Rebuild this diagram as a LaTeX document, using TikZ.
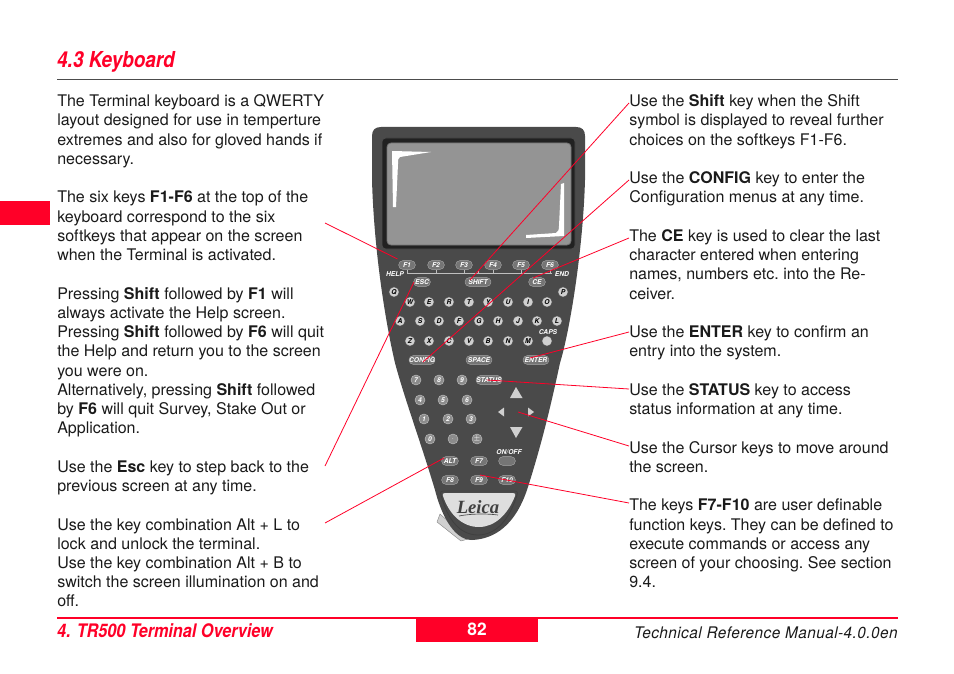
\documentclass[tikz,border=0pt]{standalone}
\usepackage{fontspec}
\setmainfont{TeX Gyre Heros}
\newfontfamily\logofont{Liberation Serif}
\newfontfamily\manualfont[LetterSpace=3]{TeX Gyre Heros}
\usetikzlibrary{calc}
\definecolor{leicared}{HTML}{FF0028}
\definecolor{body}{HTML}{4A4A4A}
\definecolor{screen}{HTML}{949494}
\definecolor{keyg}{HTML}{757575}
\definecolor{keyn}{HTML}{8C8C8C}
\definecolor{keyl}{HTML}{D0D0D0}
\definecolor{txt}{HTML}{1A1A1A}
\tikzset{
  x=0.75pt,y=-0.75pt,
  column/.style={anchor=north west,inner sep=0pt,align=left,text=txt,font=\frenchspacing\fontsize{12.02pt}{14.43pt}\selectfont},
  conn/.style={draw=leicared,line width=0.6pt},
  pill/.style={shape=rectangle,rounded corners=3.2pt,fill=keyg,draw=keyl!70!body,line width=0.3pt,minimum width=12.5pt,minimum height=6.6pt,inner sep=0pt,text=white,font=\fontsize{5pt}{5pt}\selectfont\bfseries\itshape},
  widepill/.style={pill,minimum width=19.5pt},
  rkey/.style={circle,fill=keyl,draw=black!70,line width=0.25pt,minimum size=7.6pt,inner sep=0pt,text=black,font=\fontsize{5pt}{5pt}\selectfont\bfseries\itshape},
  nkey/.style={rkey,fill=keyn,draw=keyl,text=white},
  klabel/.style={inner sep=0pt,text=white,font=\fontsize{5pt}{5pt}\selectfont\bfseries\itshape},
  tri/.style={fill=keyl,draw=none},
}
\begin{document}
\begin{tikzpicture}
\useasboundingbox (0,0) rectangle (954,674);
% page furniture
\fill[leicared] (0,201) rectangle (50,225);
\node[anchor=base west,inner sep=0pt,xscale=0.86,text=leicared,font=\fontsize{16.5pt}{18pt}\selectfont\bfseries\itshape] (title) at (57,68) {4.3 Keyboard};
\draw[black!70,line width=0.5pt] (57,79.5) -- (898,79.5);
\draw[leicared,line width=1pt] (57,618) -- (898,618);
\fill[leicared] (416,618) rectangle (538,642);
\node[inner sep=0pt,text=white,font=\fontsize{13pt}{15pt}\selectfont\bfseries] (page) at (477,629) {82};
\node[anchor=base west,inner sep=0pt,xscale=0.87,text=leicared,font=\fontsize{14pt}{15pt}\selectfont\bfseries\itshape] (foot) at (57,637) {4. TR500 Terminal Overview};
\node[anchor=base east,inner sep=0pt,xscale=0.96,text=txt,font=\manualfont\fontsize{12pt}{13pt}\selectfont\itshape] (manual) at (898,638) {Technical Reference Manual-4.0.0en};
% text columns
\node[column] (left) at (57,94.5) {The Terminal keyboard is a QWERTY\\
layout designed for use in temperture\\
extremes and also for gloved hands if\\
necessary.\\
\mbox{}\\
The six keys \textbf{F1-F6} at the top of the\\
keyboard correspond to the six\\
softkeys that appear on the screen\\
when the Terminal is activated.\\
\mbox{}\\
Pressing \textbf{Shift} followed by \textbf{F1} will\\
always activate the Help screen.\\
Pressing \textbf{Shift} followed by \textbf{F6} will quit\\
the Help and return you to the screen\\
you were on.\\
Alternatively, pressing \textbf{Shift} followed\\
by \textbf{F6} will quit Survey, Stake Out or\\
Application.\\
\mbox{}\\
Use the \textbf{Esc} key to step back to the\\
previous screen at any time.\\
\mbox{}\\
Use the key combination Alt + L to\\
lock and unlock the terminal.\\
Use the key combination Alt + B to\\
switch the screen illumination on and\\
off.};
\node[column] (right) at (629,94.5) {Use the \textbf{Shift} key when the Shift\\
symbol is displayed to reveal further\\
choices on the softkeys F1-F6.\\
\mbox{}\\
Use the \textbf{CONFIG} key to enter the\\
Configuration menus at any time.\\
\mbox{}\\
The \textbf{CE} key is used to clear the last\\
character entered when entering\\
names, numbers etc. into the Re-\\
ceiver.\\
\mbox{}\\
Use the \textbf{ENTER} key to confirm an\\
entry into the system.\\
\mbox{}\\
Use the \textbf{STATUS} key to access\\
status information at any time.\\
\mbox{}\\
Use the Cursor keys to move around\\
the screen.\\
\mbox{}\\
The keys \textbf{F7-F10} are user definable\\
function keys. They can be defined to\\
execute commands or access any\\
screen of your choosing. See section\\
9.4.};
% tab at the bottom left
\fill[keyl,draw=black!50,line width=0.3pt] (440,514) -- (437,522) -- (461,541) -- (468,539) -- cycle;
% terminal body
\fill[body] (372,136) .. controls (372,130) and (375,127) .. (381,127) -- (576,127)
  .. controls (582,127) and (585,130) .. (585,136) -- (585,180)
  .. controls (583,250) and (570,330) .. (560,363)
  .. controls (552,400) and (543,440) .. (527,490)
  .. controls (515,525) and (495,539) .. (472,540)
  .. controls (452,540) and (440,510) .. (435,490)
  .. controls (420,440) and (405,400) .. (395,363)
  .. controls (385,320) and (374,250) .. (372,180) -- cycle;
% screen
\fill[black!55!body,draw=black!70,line width=0.4pt,rounded corners=3pt] (382,138) rectangle (575,249);
\fill[screen,draw=black!55,line width=0.6pt,rounded corners=3pt] (387,143) rectangle (571,245);
\fill[white] (392,151) -- (431,152) -- (400,157) .. controls (398,158) and (398,160) .. (398,164) -- (396,207) -- (393,207) -- cycle;
\fill[white] (564,183) -- (564,236) -- (526,238) -- (526,235) -- (556,233) .. controls (558,232) and (559,230) .. (559,226) -- (561,184) -- cycle;
% softkeys
\draw[black!25,line width=0.4pt] (407,273) -- (552,273);
\foreach \tx in {407,436,464,478,493,521,550} \draw[black!25,line width=0.4pt] (\tx,270) -- (\tx,273);
\node[pill] (F1) at (407,265) {F1};
\node[pill] (F2) at (436,265) {F2};
\node[pill] (F3) at (464,265) {F3};
\node[pill] (F4) at (493,265) {F4};
\node[pill] (F5) at (521,265) {F5};
\node[pill] (F6) at (550,265) {F6};
\node[klabel] (help) at (395,274) {HELP};
\node[klabel] (end) at (562,274) {END};
\node[pill] (esc) at (422,282) {ESC};
\node[widepill] (shift) at (478,282) {SHIFT};
\node[pill] (ce) at (537,282) {CE};
% letter keys
\foreach \c/\px/\py in {Q/394/292,P/563/292,
 W/410/302,E/429/302,R/449/302,T/469/302,Y/488/302,U/508/302,I/528/302,O/547/302,
 A/400/321,S/420/321,D/439/321,F/459/321,G/479/321,H/498/321,J/518/321,K/537/321,L/557/321,
 Z/410/341,X/429/341,C/449/341,V/469/341,B/488/341,N/508/341,M/528/341}
  \node[rkey] (key\c) at (\px,\py) {\c};
\node[rkey] (caps) at (547,341) {};
\node[klabel] (capslabel) at (548,332) {CAPS};
\node[widepill] (config) at (422,360) {CONFIG};
\node[widepill] (space) at (479,360) {SPACE};
\node[widepill] (enter) at (536,360) {ENTER};
\node[widepill] (status) at (489,380) {STATUS};
% numeric keys
\foreach \c/\px/\py in {7/416/380,8/439/380,9/462/380,4/420/400,5/443/400,6/467/400,1/424/419,2/448/419,3/471/419,0/430/439}
  \node[nkey] (num\c) at (\px,\py) {\c};
\node[nkey] (numdot) at (453,439) {$\cdot$};
\node[nkey] (numpm) at (477,439) {$\pm$};
% cursor keys
\fill[tri] (510,398) -- (516,387) -- (522.5,398) -- cycle;
\fill[tri] (510,427) -- (522.5,427) -- (516,438) -- cycle;
\fill[tri] (498,412) -- (504,407.5) -- (504,416.5) -- cycle;
\fill[tri] (534,412) -- (528,407.5) -- (528,416.5) -- cycle;
% bottom keys
\node[klabel] (onofflabel) at (509,452) {ON/OFF};
\node[pill] (onoff) at (507,461) {};
\node[pill] (alt) at (450,461) {ALT};
\node[pill] (F7) at (479,461) {F7};
\node[pill] (F8) at (450,480) {F8};
\node[pill] (F9) at (479,480) {F9};
\node[pill] (F10) at (507,480) {F10};
% logo plate
\draw[black!75,line width=0.6pt] (443,491) -- (514,491) .. controls (517,491) and (518,492) .. (517,495)
  .. controls (510,518) and (497,535) .. (478,535) .. controls (459,535) and (447,518) .. (441,495) .. controls (440,492) and (441,491) .. (443,491) -- cycle;
\fill[black!13] (445,493) -- (513,493) .. controls (515,493) and (516,494) .. (515,496)
  .. controls (508,514) and (495,527) .. (479,527) .. controls (462,527) and (449,514) .. (443,496) .. controls (442,494) and (443,493) .. (445,493) -- cycle;
\node[inner sep=0pt,text=black!75,font=\logofont\fontsize{14pt}{15pt}\selectfont\bfseries\itshape] (logo) at (478,507) {Leica};
\draw[black!70,line width=0.5pt] (459,516) .. controls (475,513) and (490,514) .. (498,515);
% connector ends
\coordinate (lF1) at (325,223);
\coordinate (lEsc) at (325,466);
\coordinate (lAlt) at (325,523);
\coordinate (rShift) at (629,103);
\coordinate (rConfig) at (629,180);
\coordinate (rCe) at (629,238);
\coordinate (rEnter) at (629,332);
\coordinate (rStatus) at (629,389);
\coordinate (rCursor) at (629,446);
\coordinate (rF) at (629,503);
\coordinate (cursorc) at (518,412);
\draw[conn] (lF1) -- ($(F1.west)+(-1,-6)$);
\draw[conn] (lEsc) -- ($(esc)+(-8,0)$);
\draw[conn] (lAlt) -- ($(alt)+(-6,-3)$);
\draw[conn] (rShift) -- ($(shift)+(-8,-2)$);
\draw[conn] (rConfig) -- ($(config)+(1,2)$);
\draw[conn] (rCe) -- ($(ce)+(-4,-4)$);
\draw[conn] (rEnter) -- ($(enter)+(-6,-2)$);
\draw[conn] (rStatus) -- ($(status)+(-2,0)$);
\draw[conn] (rCursor) -- (cursorc);
\draw[conn] (rF) -- ($(F9)+(1,-5)$);
\end{tikzpicture}
\end{document}
